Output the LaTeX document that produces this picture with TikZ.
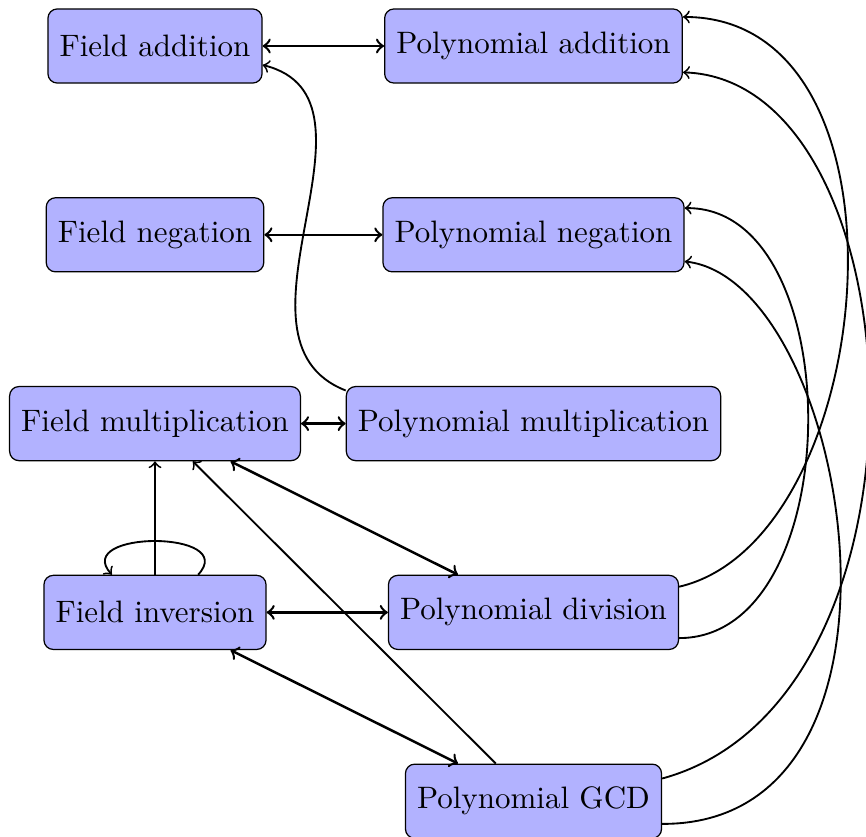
\documentclass[tikz,border=0pt]{standalone}
\begin{document}
\begin{tikzpicture}[x=0.3225pt,y=-0.3225pt,
  box/.style={draw=black, fill=blue!30, rounded corners=3pt, minimum height=23.9pt, inner xsep=3.75pt},
  both/.style={<->, thick},
  one/.style={->, semithick}]
\useasboundingbox (0,0) rectangle (866,837);
\node[box] (fa) at (155,46) {Field addition};
\node[box] (pa) at (533.5,46) {Polynomial addition};
\node[box] (fn) at (155,234.8) {Field negation};
\node[box] (pn) at (533.5,234.8) {Polynomial negation};
\node[box] (fm) at (155,423.6) {Field multiplication};
\node[box] (pm) at (533.5,423.6) {Polynomial multiplication};
\node[box] (fi) at (155,612.4) {Field inversion};
\node[box] (pd) at (533.5,612.4) {Polynomial division};
\node[box] (pg) at (533.5,801.2) {Polynomial GCD};
\draw[both] (fa) -- (pa);
\draw[both] (fn) -- (pn);
\draw[both] (fm) -- (pm);
\draw[both] (fi) -- (pd);
\draw[both] (fm) -- (pd);
\draw[both] (fi) -- (pg);
\draw[one] (fi) -- (fm);
\draw[one] (pg) -- (fm);
\draw[one] (pm.170) .. controls (214,339) and (398,99) .. (fa.-10);
\draw[one] (pd.10) .. controls (880,540) and (925,17) .. (pa.11);
\draw[one] (pd.-10) .. controls (850,638) and (850,206) .. (pn.10);
\draw[one] (pg.-10) .. controls (940,825) and (850,280) .. (pn.-10);
\draw[one] (pg.10) .. controls (950,700) and (920,80) .. (pa.-10);
\draw[one] ([xshift=13.9pt]fi.north) .. controls (240,530) and (72,530) .. ([xshift=-13.9pt]fi.north);
\end{tikzpicture}
\end{document}
